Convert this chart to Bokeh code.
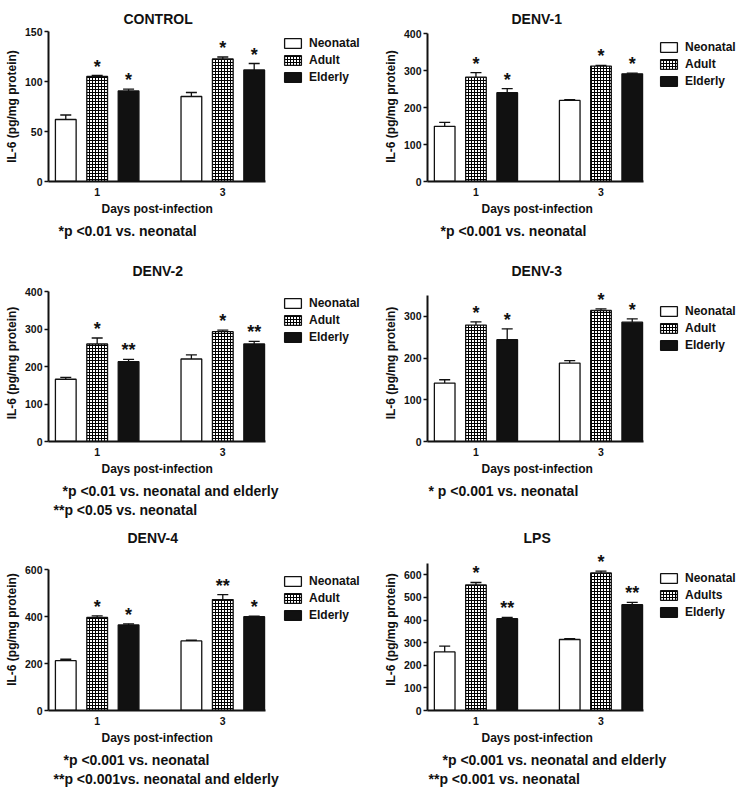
import numpy as np
from bokeh.plotting import figure
from bokeh.models import (Range1d, FixedTicker, Whisker, TeeHead, ColumnDataSource,
                          Legend, LegendItem, Title)
from bokeh.layouts import column, row
from bokeh.embed import file_html
from bokeh.resources import INLINE
from bokeh.core.properties import value

FONT = "Liberation Sans"
INK = "#111111"

days = ["1", "3"]
groups = ["Neonatal", "Adult", "Elderly"]
groups_lps = ["Neonatal", "Adults", "Elderly"]
x_title = "Days post-infection"
y_title = "IL-6 (pg/mg protein)"

# ---- CONTROL ----
control_neonatal = [62, 85]
control_neonatal_err = [4.5, 4]
control_adult = [105, 122.5]
control_adult_err = [1, 2]
control_elderly = [90.5, 111.5]
control_elderly_err = [1.8, 6.5]
control_adult_stars = ["*", "*"]
control_elderly_stars = ["*", "*"]
control_yticks = [0, 50, 100, 150]
control_notes = ["*p <0.01 vs. neonatal"]

# ---- DENV-1 ----
denv1_neonatal = [149, 219]
denv1_neonatal_err = [11, 2]
denv1_adult = [282, 312]
denv1_adult_err = [12, 2]
denv1_elderly = [240, 291]
denv1_elderly_err = [11, 2]
denv1_adult_stars = ["*", "*"]
denv1_elderly_stars = ["*", "*"]
denv1_yticks = [0, 100, 200, 300, 400]
denv1_notes = ["*p <0.001 vs. neonatal"]

# ---- DENV-2 ----
denv2_neonatal = [166, 220]
denv2_neonatal_err = [5, 11]
denv2_adult = [260, 293]
denv2_adult_err = [16, 4]
denv2_elderly = [213, 260]
denv2_elderly_err = [6, 7]
denv2_adult_stars = ["*", "*"]
denv2_elderly_stars = ["**", "**"]
denv2_yticks = [0, 100, 200, 300, 400]
denv2_notes = ["*p <0.01 vs. neonatal and elderly", "**p <0.05 vs. neonatal"]

# ---- DENV-3 ----
denv3_neonatal = [140, 188]
denv3_neonatal_err = [8, 6]
denv3_adult = [279, 314]
denv3_adult_err = [8, 4]
denv3_elderly = [244, 286]
denv3_elderly_err = [26, 8]
denv3_adult_stars = ["*", "*"]
denv3_elderly_stars = ["*", "*"]
denv3_yticks = [0, 100, 200, 300]
denv3_notes = ["* p <0.001 vs. neonatal"]

# ---- DENV-4 ----
denv4_neonatal = [212, 296]
denv4_neonatal_err = [6, 3]
denv4_adult = [396, 472]
denv4_adult_err = [7, 21]
denv4_elderly = [364, 399]
denv4_elderly_err = [5, 3]
denv4_adult_stars = ["*", "**"]
denv4_elderly_stars = ["*", "*"]
denv4_yticks = [0, 200, 400, 600]
denv4_notes = ["*p <0.001 vs. neonatal", "**p <0.001vs. neonatal and elderly"]

# ---- LPS ----
lps_neonatal = [259, 314]
lps_neonatal_err = [26, 4]
lps_adult = [555, 608]
lps_adult_err = [11, 8]
lps_elderly = [406, 468]
lps_elderly_err = [6, 10]
lps_adult_stars = ["*", "*"]
lps_elderly_stars = ["**", "**"]
lps_yticks = [0, 100, 200, 300, 400, 500, 600]
lps_notes = ["*p <0.001 vs. neonatal and elderly", "**p <0.001 vs. neonatal"]

GROUP_CENTERS = [1, 5]
OFFSETS = [-1, 0, 1]
BAR_W = 0.66
X0, X1 = -0.55, 6.36   # extent of the bar area (axis bounds)


def panel(title, title_off, ymax, yticks, neo, neo_e, adu, adu_e, eld, eld_e, adu_st, eld_st,
          labels, notes, W, H, bl, bt, fh, ext, bar_w_px, t_stand, leg_top, xlab_off, note_offs,
          leg_gap=17, leg_std=6):
    br = 2
    fw = W - bl - br
    bt2 = bt - ext
    fh2 = fh + ext
    bb = H - bt2 - fh2
    xmax = X0 + (X1 - X0) * fw / bar_w_px
    ytop = ymax * fh2 / fh
    p = figure(width=W, height=H, x_range=Range1d(X0, xmax), y_range=Range1d(0, ytop),
               output_backend="svg", toolbar_location=None,
               min_border_left=bl, min_border_right=br, min_border_top=bt2, min_border_bottom=bb)
    p.outline_line_color = None
    p.xgrid.visible = False
    p.ygrid.visible = False

    p.title.text = title
    p.title.align = "left"
    p.title.offset = title_off
    p.title.standoff = t_stand
    p.title.text_font = FONT
    p.title.text_font_size = "14px"
    p.title.text_font_style = "bold"
    p.title.text_color = INK

    rends = []
    styles = [dict(fill_color="white"),
              dict(fill_color="white", hatch_pattern="cross", hatch_color="black",
                   hatch_scale=3, hatch_weight=1),
              dict(fill_color=INK)]
    series = [(neo, neo_e), (adu, adu_e), (eld, eld_e)]
    for k, ((v, e), st) in enumerate(zip(series, styles)):
        xs = [c + OFFSETS[k] for c in GROUP_CENTERS]
        src = ColumnDataSource(dict(x=xs, top=v, up=[a + b for a, b in zip(v, e)]))
        r = p.vbar(x="x", top="top", width=BAR_W, source=src, line_color=INK, line_width=1.3, **st)
        rends.append(r)
        p.add_layout(Whisker(base="x", lower="top", upper="up", source=src, dimension="height",
                             line_color=INK, line_width=1.3, lower_head=None,
                             upper_head=TeeHead(size=11, line_color=INK, line_width=1.3)))
        if k > 0:
            stars = adu_st if k == 1 else eld_st
            ssrc = ColumnDataSource(dict(x=xs, y=src.data["up"], t=stars))
            p.text(x="x", y="y", text="t", source=ssrc, text_align="center",
                   text_baseline="alphabetic", y_offset=-9, text_font=value(FONT),
                   text_font_size="18px", text_font_style="bold", text_color=INK)

    xa = p.xaxis[0]
    xa.bounds = (X0, X1)
    xa.ticker = FixedTicker(ticks=GROUP_CENTERS)
    xa.major_label_overrides = {c: d for c, d in zip(GROUP_CENTERS, days)}
    xa.major_tick_out = 0
    xa.major_tick_in = 0
    xa.minor_tick_line_color = None
    xa.axis_line_width = 2
    xa.axis_line_color = INK
    xa.major_label_standoff = 6
    ya = p.yaxis[0]
    ya.bounds = (0, ymax)
    ya.ticker = FixedTicker(ticks=yticks)
    ya.major_tick_out = 4
    ya.major_tick_in = 0
    ya.major_tick_line_width = 1.5
    ya.major_tick_line_color = INK
    ya.minor_tick_line_color = None
    ya.axis_line_width = 2
    ya.axis_line_color = INK
    ya.major_label_standoff = 2
    ya.axis_label = y_title
    ya.axis_label_standoff = 3
    for ax in (xa, ya):
        ax.major_label_text_font = FONT
        ax.major_label_text_font_size = "10.5px"
        ax.major_label_text_font_style = "bold"
        ax.major_label_text_color = INK
        ax.axis_label_text_font = FONT
        ax.axis_label_text_font_size = "12px"
        ax.axis_label_text_font_style = "bold"
        ax.axis_label_text_color = INK

    leg = Legend(items=[LegendItem(label=lab, renderers=[r]) for lab, r in zip(labels, rends)],
                 location=(bar_w_px + leg_gap, fh2 - (leg_top + ext) - 51), orientation="vertical",
                 margin=0, padding=0, spacing=0, label_height=17, glyph_height=12,
                 glyph_width=21, label_standoff=leg_std, border_line_color=None,
                 background_fill_alpha=0, label_text_font=FONT,
                 label_text_font_size="12px", label_text_font_style="bold",
                 label_text_color=INK)
    p.add_layout(leg)

    p.add_layout(Title(text=x_title, align="left", offset=xlab_off, text_font=FONT,
                       text_font_size="12px", text_font_style="bold", text_color=INK,
                       standoff=2), "below")
    for i, (line, off) in enumerate(zip(notes, note_offs)):
        t = Title(text=line, align="left", offset=off, text_font=FONT,
                  text_font_size="14px", text_font_style="bold", text_color=INK,
                  standoff=9 if i == 0 else -8)
        p.add_layout(t, "below")
    return p


CW = 370
# row 1: common frame top 31, bottom 181
p1 = panel("CONTROL", 75, 150, control_yticks, control_neonatal, control_neonatal_err,
           control_adult, control_adult_err, control_elderly, control_elderly_err,
           control_adult_stars, control_elderly_stars, groups, control_notes,
           CW, 250, 48, 31, 150, 0, 217, 9, 3, 53, [10])
p2 = panel("DENV-1", 84, 400, denv1_yticks, denv1_neonatal, denv1_neonatal_err,
           denv1_adult, denv1_adult_err, denv1_elderly, denv1_elderly_err,
           denv1_adult_stars, denv1_elderly_stars, groups, denv1_notes,
           CW, 250, 57, 33, 148, 2, 216, 9, 5, 54, [13], 15, 6)
# row 2: common frame top 284 (page), bottom 441
p3 = panel("DENV-2", 84, 400, denv2_yticks, denv2_neonatal, denv2_neonatal_err,
           denv2_adult, denv2_adult_err, denv2_elderly, denv2_elderly_err,
           denv2_adult_stars, denv2_elderly_stars, groups, denv2_notes,
           CW, 270, 48, 41, 150, 7, 217, 12, 3, 53, [14, 5])
p4 = panel("DENV-3", 84, 350, denv3_yticks, denv3_neonatal, denv3_neonatal_err,
           denv3_adult, denv3_adult_err, denv3_elderly, denv3_elderly_err,
           denv3_adult_stars, denv3_elderly_stars, groups, denv3_notes,
           CW, 270, 57, 45, 146, 11, 216, 12, 7, 54, [1], 15, 6)
# row 3: common frame top 548 (page), bottom 710
p5 = panel("DENV-4", 79, 600, denv4_yticks, denv4_neonatal, denv4_neonatal_err,
           denv4_adult, denv4_adult_err, denv4_elderly, denv4_elderly_err,
           denv4_adult_stars, denv4_elderly_stars, groups, denv4_notes,
           CW, 269, 48, 49, 141, 21, 217, 6, 3, 53, [15, 5])
p6 = panel("LPS", 96, 650, lps_yticks, lps_neonatal, lps_neonatal_err,
           lps_adult, lps_adult_err, lps_elderly, lps_elderly_err,
           lps_adult_stars, lps_elderly_stars, groups_lps, lps_notes,
           CW, 269, 57, 43, 147, 15, 216, 6, 6, 54, [15, 1], 15, 6)

layout = column(row(p1, p2), row(p3, p4), row(p5, p6))

open("out.html", "w").write(file_html(layout, INLINE))
